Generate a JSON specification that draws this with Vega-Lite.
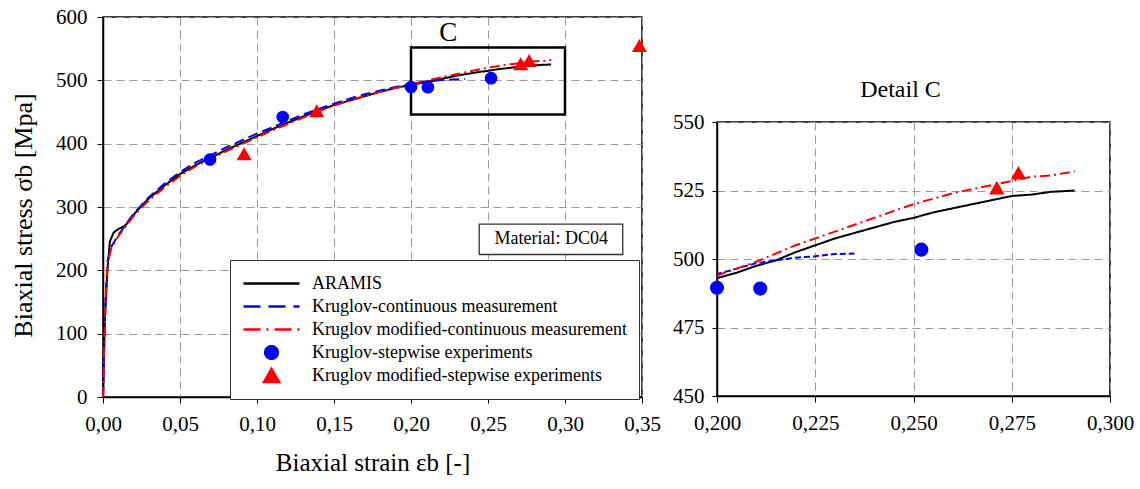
{
  "$schema": "https://vega.github.io/schema/vega-lite/v6.json",
  "padding": {"left": 9, "top": 5, "right": 5, "bottom": 5},
  "background": "white",
  "datasets": {
    "curves": [
      {"series": "ARAMIS", "strain": 0, "stress": 0},
      {"series": "ARAMIS", "strain": 0.0005, "stress": 60},
      {"series": "ARAMIS", "strain": 0.0012, "stress": 120},
      {"series": "ARAMIS", "strain": 0.002, "stress": 160},
      {"series": "ARAMIS", "strain": 0.003, "stress": 205},
      {"series": "ARAMIS", "strain": 0.0045, "stress": 246},
      {"series": "ARAMIS", "strain": 0.007, "stress": 260},
      {"series": "ARAMIS", "strain": 0.0105, "stress": 266},
      {"series": "ARAMIS", "strain": 0.014, "stress": 270},
      {"series": "ARAMIS", "strain": 0.016, "stress": 275},
      {"series": "ARAMIS", "strain": 0.02, "stress": 288},
      {"series": "ARAMIS", "strain": 0.025, "stress": 302},
      {"series": "ARAMIS", "strain": 0.03, "stress": 314},
      {"series": "ARAMIS", "strain": 0.04, "stress": 334},
      {"series": "ARAMIS", "strain": 0.05, "stress": 352},
      {"series": "ARAMIS", "strain": 0.06, "stress": 366},
      {"series": "ARAMIS", "strain": 0.07, "stress": 378},
      {"series": "ARAMIS", "strain": 0.08, "stress": 390},
      {"series": "ARAMIS", "strain": 0.09, "stress": 401},
      {"series": "ARAMIS", "strain": 0.1, "stress": 412},
      {"series": "ARAMIS", "strain": 0.11, "stress": 423},
      {"series": "ARAMIS", "strain": 0.12, "stress": 433},
      {"series": "ARAMIS", "strain": 0.13, "stress": 443},
      {"series": "ARAMIS", "strain": 0.14, "stress": 452},
      {"series": "ARAMIS", "strain": 0.15, "stress": 461},
      {"series": "ARAMIS", "strain": 0.16, "stress": 468},
      {"series": "ARAMIS", "strain": 0.17, "stress": 475},
      {"series": "ARAMIS", "strain": 0.18, "stress": 482},
      {"series": "ARAMIS", "strain": 0.19, "stress": 488},
      {"series": "ARAMIS", "strain": 0.2, "stress": 493},
      {"series": "ARAMIS", "strain": 0.205, "stress": 495},
      {"series": "ARAMIS", "strain": 0.21, "stress": 497.5},
      {"series": "ARAMIS", "strain": 0.215, "stress": 499.5},
      {"series": "ARAMIS", "strain": 0.22, "stress": 502.5},
      {"series": "ARAMIS", "strain": 0.225, "stress": 505},
      {"series": "ARAMIS", "strain": 0.23, "stress": 507.5},
      {"series": "ARAMIS", "strain": 0.235, "stress": 509.5},
      {"series": "ARAMIS", "strain": 0.24, "stress": 511.5},
      {"series": "ARAMIS", "strain": 0.245, "stress": 513.5},
      {"series": "ARAMIS", "strain": 0.25, "stress": 515},
      {"series": "ARAMIS", "strain": 0.255, "stress": 517},
      {"series": "ARAMIS", "strain": 0.26, "stress": 518.5},
      {"series": "ARAMIS", "strain": 0.265, "stress": 520},
      {"series": "ARAMIS", "strain": 0.27, "stress": 521.5},
      {"series": "ARAMIS", "strain": 0.275, "stress": 523},
      {"series": "ARAMIS", "strain": 0.28, "stress": 523.5},
      {"series": "ARAMIS", "strain": 0.285, "stress": 524.5},
      {"series": "ARAMIS", "strain": 0.291, "stress": 525},
      {"series": "Kruglov-continuous measurement", "strain": 0, "stress": 0},
      {"series": "Kruglov-continuous measurement", "strain": 0.0005, "stress": 55},
      {"series": "Kruglov-continuous measurement", "strain": 0.0013, "stress": 130},
      {"series": "Kruglov-continuous measurement", "strain": 0.002, "stress": 175},
      {"series": "Kruglov-continuous measurement", "strain": 0.003, "stress": 215},
      {"series": "Kruglov-continuous measurement", "strain": 0.0056, "stress": 238},
      {"series": "Kruglov-continuous measurement", "strain": 0.01, "stress": 256},
      {"series": "Kruglov-continuous measurement", "strain": 0.0165, "stress": 278},
      {"series": "Kruglov-continuous measurement", "strain": 0.02, "stress": 290},
      {"series": "Kruglov-continuous measurement", "strain": 0.025, "stress": 303},
      {"series": "Kruglov-continuous measurement", "strain": 0.03, "stress": 316},
      {"series": "Kruglov-continuous measurement", "strain": 0.04, "stress": 337},
      {"series": "Kruglov-continuous measurement", "strain": 0.05, "stress": 355},
      {"series": "Kruglov-continuous measurement", "strain": 0.06, "stress": 370},
      {"series": "Kruglov-continuous measurement", "strain": 0.07, "stress": 382},
      {"series": "Kruglov-continuous measurement", "strain": 0.08, "stress": 394},
      {"series": "Kruglov-continuous measurement", "strain": 0.09, "stress": 405},
      {"series": "Kruglov-continuous measurement", "strain": 0.1, "stress": 416},
      {"series": "Kruglov-continuous measurement", "strain": 0.11, "stress": 426},
      {"series": "Kruglov-continuous measurement", "strain": 0.12, "stress": 436},
      {"series": "Kruglov-continuous measurement", "strain": 0.13, "stress": 446},
      {"series": "Kruglov-continuous measurement", "strain": 0.14, "stress": 455},
      {"series": "Kruglov-continuous measurement", "strain": 0.15, "stress": 463},
      {"series": "Kruglov-continuous measurement", "strain": 0.16, "stress": 471},
      {"series": "Kruglov-continuous measurement", "strain": 0.17, "stress": 478},
      {"series": "Kruglov-continuous measurement", "strain": 0.18, "stress": 484},
      {"series": "Kruglov-continuous measurement", "strain": 0.19, "stress": 489.5},
      {"series": "Kruglov-continuous measurement", "strain": 0.2, "stress": 494.5},
      {"series": "Kruglov-continuous measurement", "strain": 0.205, "stress": 496.5},
      {"series": "Kruglov-continuous measurement", "strain": 0.21, "stress": 498.5},
      {"series": "Kruglov-continuous measurement", "strain": 0.215, "stress": 499.5},
      {"series": "Kruglov-continuous measurement", "strain": 0.22, "stress": 500.5},
      {"series": "Kruglov-continuous measurement", "strain": 0.225, "stress": 501},
      {"series": "Kruglov-continuous measurement", "strain": 0.23, "stress": 501.8},
      {"series": "Kruglov-continuous measurement", "strain": 0.235, "stress": 502},
      {"series": "Kruglov modified-continuous measurement", "strain": 0, "stress": 0},
      {"series": "Kruglov modified-continuous measurement", "strain": 0.0005, "stress": 50},
      {"series": "Kruglov modified-continuous measurement", "strain": 0.0013, "stress": 125},
      {"series": "Kruglov modified-continuous measurement", "strain": 0.002, "stress": 170},
      {"series": "Kruglov modified-continuous measurement", "strain": 0.003, "stress": 212},
      {"series": "Kruglov modified-continuous measurement", "strain": 0.0056, "stress": 236},
      {"series": "Kruglov modified-continuous measurement", "strain": 0.01, "stress": 254},
      {"series": "Kruglov modified-continuous measurement", "strain": 0.0165, "stress": 275},
      {"series": "Kruglov modified-continuous measurement", "strain": 0.02, "stress": 286},
      {"series": "Kruglov modified-continuous measurement", "strain": 0.025, "stress": 299},
      {"series": "Kruglov modified-continuous measurement", "strain": 0.03, "stress": 311},
      {"series": "Kruglov modified-continuous measurement", "strain": 0.04, "stress": 331},
      {"series": "Kruglov modified-continuous measurement", "strain": 0.05, "stress": 349},
      {"series": "Kruglov modified-continuous measurement", "strain": 0.06, "stress": 364},
      {"series": "Kruglov modified-continuous measurement", "strain": 0.07, "stress": 376},
      {"series": "Kruglov modified-continuous measurement", "strain": 0.08, "stress": 388},
      {"series": "Kruglov modified-continuous measurement", "strain": 0.09, "stress": 399},
      {"series": "Kruglov modified-continuous measurement", "strain": 0.1, "stress": 410},
      {"series": "Kruglov modified-continuous measurement", "strain": 0.11, "stress": 421},
      {"series": "Kruglov modified-continuous measurement", "strain": 0.12, "stress": 431},
      {"series": "Kruglov modified-continuous measurement", "strain": 0.13, "stress": 441},
      {"series": "Kruglov modified-continuous measurement", "strain": 0.14, "stress": 451},
      {"series": "Kruglov modified-continuous measurement", "strain": 0.15, "stress": 460},
      {"series": "Kruglov modified-continuous measurement", "strain": 0.16, "stress": 468},
      {"series": "Kruglov modified-continuous measurement", "strain": 0.17, "stress": 475},
      {"series": "Kruglov modified-continuous measurement", "strain": 0.18, "stress": 482},
      {"series": "Kruglov modified-continuous measurement", "strain": 0.19, "stress": 488},
      {"series": "Kruglov modified-continuous measurement", "strain": 0.2, "stress": 494},
      {"series": "Kruglov modified-continuous measurement", "strain": 0.205, "stress": 496.5},
      {"series": "Kruglov modified-continuous measurement", "strain": 0.21, "stress": 499},
      {"series": "Kruglov modified-continuous measurement", "strain": 0.215, "stress": 502},
      {"series": "Kruglov modified-continuous measurement", "strain": 0.22, "stress": 505},
      {"series": "Kruglov modified-continuous measurement", "strain": 0.225, "stress": 507.5},
      {"series": "Kruglov modified-continuous measurement", "strain": 0.23, "stress": 510},
      {"series": "Kruglov modified-continuous measurement", "strain": 0.235, "stress": 512.5},
      {"series": "Kruglov modified-continuous measurement", "strain": 0.24, "stress": 515},
      {"series": "Kruglov modified-continuous measurement", "strain": 0.245, "stress": 517.5},
      {"series": "Kruglov modified-continuous measurement", "strain": 0.25, "stress": 520},
      {"series": "Kruglov modified-continuous measurement", "strain": 0.255, "stress": 522},
      {"series": "Kruglov modified-continuous measurement", "strain": 0.26, "stress": 524},
      {"series": "Kruglov modified-continuous measurement", "strain": 0.265, "stress": 525.5},
      {"series": "Kruglov modified-continuous measurement", "strain": 0.27, "stress": 527},
      {"series": "Kruglov modified-continuous measurement", "strain": 0.275, "stress": 528.5},
      {"series": "Kruglov modified-continuous measurement", "strain": 0.28, "stress": 530},
      {"series": "Kruglov modified-continuous measurement", "strain": 0.285, "stress": 530.5},
      {"series": "Kruglov modified-continuous measurement", "strain": 0.291, "stress": 532}
    ],
    "points": [
      {"series": "Kruglov-stepwise experiments", "strain": 0.0695, "stress": 375},
      {"series": "Kruglov-stepwise experiments", "strain": 0.1167, "stress": 442},
      {"series": "Kruglov-stepwise experiments", "strain": 0.2, "stress": 489.5},
      {"series": "Kruglov-stepwise experiments", "strain": 0.211, "stress": 489.2},
      {"series": "Kruglov-stepwise experiments", "strain": 0.252, "stress": 503.4},
      {"series": "Kruglov modified-stepwise experiments", "strain": 0.0916, "stress": 384},
      {"series": "Kruglov modified-stepwise experiments", "strain": 0.1388, "stress": 452},
      {"series": "Kruglov modified-stepwise experiments", "strain": 0.2712, "stress": 526},
      {"series": "Kruglov modified-stepwise experiments", "strain": 0.2767, "stress": 531.5},
      {"series": "Kruglov modified-stepwise experiments", "strain": 0.3483, "stress": 555}
    ],
    "boxes": [
      {"name": "C", "x0": 0.2, "x1": 0.3, "y0": 446, "y1": 552},
      {"name": "Material: DC04", "x0": 0.2443, "x1": 0.3375, "y0": 225, "y1": 273}
    ],
    "labels": [
      {"text": "C", "strain": 0.2242, "stress": 575, "kind": "big"},
      {"text": "Material: DC04", "strain": 0.291, "stress": 249, "kind": "small"}
    ]
  },
  "hconcat": [
    {
      "width": 539,
      "height": 380,
      "layer": [
        {
          "data": {"name": "boxes"},
          "transform": [{"filter": "datum.name === 'C'"}],
          "mark": {"type": "rect", "fill": null, "stroke": "black", "strokeWidth": 2.5},
          "encoding": {
            "x": {"field": "x0", "type": "quantitative", "scale": {"domain": [0, 0.35], "nice": false}},
            "x2": {"field": "x1"},
            "y": {"field": "y0", "type": "quantitative", "scale": {"domain": [0, 600], "nice": false}},
            "y2": {"field": "y1"}
          }
        },
        {
          "data": {"name": "boxes"},
          "transform": [{"filter": "datum.name !== 'C'"}],
          "mark": {"type": "rect", "fill": "white", "stroke": "#333", "strokeWidth": 1.3},
          "encoding": {
            "x": {"field": "x0", "type": "quantitative"},
            "x2": {"field": "x1"},
            "y": {"field": "y0", "type": "quantitative"},
            "y2": {"field": "y1"}
          }
        },
        {
          "data": {"name": "labels"},
          "transform": [{"filter": "datum.kind === 'big'"}],
          "mark": {"type": "text", "font": "Liberation Serif", "fontSize": 27, "color": "black", "baseline": "middle"},
          "encoding": {
            "x": {"field": "strain", "type": "quantitative"},
            "y": {"field": "stress", "type": "quantitative"},
            "text": {"field": "text"}
          }
        },
        {
          "data": {"name": "labels"},
          "transform": [{"filter": "datum.kind === 'small'"}],
          "mark": {"type": "text", "font": "Liberation Serif", "fontSize": 18, "color": "black", "baseline": "middle"},
          "encoding": {
            "x": {"field": "strain", "type": "quantitative"},
            "y": {"field": "stress", "type": "quantitative"},
            "text": {"field": "text"}
          }
        },
        {
          "data": {"name": "curves"},
          "mark": {"type": "line", "strokeWidth": 2},
          "encoding": {
            "x": {"field": "strain", "type": "quantitative"},
            "y": {"field": "stress", "type": "quantitative"},
            "detail": {"field": "series"},
            "color": {
              "field": "series",
              "type": "nominal",
              "scale": {
                "domain": ["ARAMIS", "Kruglov-continuous measurement", "Kruglov modified-continuous measurement", "Kruglov-stepwise experiments", "Kruglov modified-stepwise experiments"],
                "range": ["black", "#0000ff", "#ff0000", "#0000ff", "#ff0000"]
              },
              "legend": {
                "orient": "none",
                "legendX": 127,
                "legendY": 243,
                "direction": "vertical",
                "title": null,
                "fillColor": "white",
                "strokeColor": "#333",
                "padding": 12,
                "symbolSize": 3136,
                "clipHeight": 23,
                "rowPadding": 0,
                "labelFont": "Liberation Serif",
                "labelFontSize": 18,
                "labelColor": "black",
                "labelLimit": 500,
                "labelOffset": 11,
                "encode": {
                  "symbols": {
                    "update": {
                      "shape": {"signal": "datum.value === 'Kruglov-stepwise experiments' ? 'circle' : datum.value === 'Kruglov modified-stepwise experiments' ? 'triangle-up' : 'stroke'"},
                      "size": {"signal": "datum.value === 'Kruglov-stepwise experiments' ? 160 : datum.value === 'Kruglov modified-stepwise experiments' ? 225 : 3136"},
                      "fill": {"signal": "datum.value === 'Kruglov-stepwise experiments' ? '#0000ff' : datum.value === 'Kruglov modified-stepwise experiments' ? '#ff0000' : 'transparent'"},
                      "stroke": {"signal": "datum.value === 'ARAMIS' ? 'black' : datum.value === 'Kruglov-continuous measurement' ? '#0000ff' : datum.value === 'Kruglov modified-continuous measurement' ? '#ff0000' : 'transparent'"},
                      "strokeDash": {"signal": "datum.value === 'Kruglov-continuous measurement' ? [17, 8] : datum.value === 'Kruglov modified-continuous measurement' ? [17, 6, 2, 6] : [1, 0]"},
                      "strokeWidth": {"value": 2.5},
                      "opacity": {"value": 1}
                    }
                  }
                }
              }
            },
            "strokeDash": {
              "field": "series",
              "type": "nominal",
              "scale": {
                "domain": ["ARAMIS", "Kruglov-continuous measurement", "Kruglov modified-continuous measurement"],
                "range": [[1, 0], [10, 5], [10, 4, 2, 4]]
              },
              "legend": null
            }
          }
        },
        {
          "data": {"name": "points"},
          "transform": [{"filter": "datum.series === 'Kruglov-stepwise experiments'"}],
          "mark": {"type": "point", "shape": "circle", "filled": true, "opacity": 1, "size": 160},
          "encoding": {
            "x": {"field": "strain", "type": "quantitative"},
            "y": {"field": "stress", "type": "quantitative"},
            "color": {"field": "series", "type": "nominal"}
          }
        },
        {
          "data": {"name": "points"},
          "transform": [{"filter": "datum.series === 'Kruglov modified-stepwise experiments'"}],
          "mark": {"type": "point", "shape": "triangle-up", "filled": true, "opacity": 1, "size": 225},
          "encoding": {
            "x": {"field": "strain", "type": "quantitative"},
            "y": {"field": "stress", "type": "quantitative"},
            "color": {"field": "series", "type": "nominal"}
          }
        }
      ],
      "encoding": {
        "x": {
          "axis": {
            "title": "Biaxial strain εb [-]",
            "values": [0, 0.05, 0.1, 0.15, 0.2, 0.25, 0.3, 0.35],
            "labelExpr": "replace(format(datum.value, '.2f'), '.', ',')",
            "labelFlush": false,
            "titleFontSize": 25,
            "labelPadding": 10,
            "titlePadding": 16
          }
        },
        "y": {
          "axis": {
            "title": "Biaxial stress σb [Mpa]",
            "values": [0, 100, 200, 300, 400, 500, 600],
            "titleFontSize": 26,
            "titleY": 198,
            "labelPadding": 10,
            "titlePadding": 19
          }
        }
      }
    },
    {
      "spacing": 20,
      "vconcat": [
        {
          "width": 393,
          "height": 40,
          "view": {"stroke": null},
          "data": {"values": [{"a": 1}]},
          "mark": {"type": "point", "opacity": 0},
          "encoding": {}
        },
        {
          "width": 393,
          "height": 274,
          "title": {"text": "Detail C", "font": "Liberation Serif", "fontSize": 24, "fontWeight": "normal", "color": "black", "offset": 9, "dx": -13},
          "layer": [
            {
              "data": {"name": "curves"},
              "mark": {"type": "line", "strokeWidth": 2, "clip": true},
              "encoding": {
                "x": {"field": "strain", "type": "quantitative", "scale": {"domain": [0.2, 0.3], "nice": false, "zero": false}},
                "y": {"field": "stress", "type": "quantitative", "scale": {"domain": [450, 550], "nice": false, "zero": false}},
                "detail": {"field": "series"},
                "color": {
                  "field": "series",
                  "type": "nominal",
                  "scale": {
                    "domain": ["ARAMIS", "Kruglov-continuous measurement", "Kruglov modified-continuous measurement", "Kruglov-stepwise experiments", "Kruglov modified-stepwise experiments"],
                    "range": ["black", "#0000ff", "#ff0000", "#0000ff", "#ff0000"]
                  },
                  "legend": null
                },
                "strokeDash": {
                  "field": "series",
                  "type": "nominal",
                  "scale": {
                    "domain": ["ARAMIS", "Kruglov-continuous measurement", "Kruglov modified-continuous measurement"],
                    "range": [[1, 0], [6, 3], [10, 4, 2, 4]]
                  },
                  "legend": null
                }
              }
            },
            {
              "data": {"name": "points"},
              "transform": [{"filter": "datum.series === 'Kruglov-stepwise experiments' && datum.strain >= 0.199 && datum.strain <= 0.3"}],
              "mark": {"type": "point", "shape": "circle", "filled": true, "opacity": 1, "size": 200},
              "encoding": {
                "x": {"field": "strain", "type": "quantitative"},
                "y": {"field": "stress", "type": "quantitative"},
                "color": {"field": "series", "type": "nominal", "legend": null}
              }
            },
            {
              "data": {"name": "points"},
              "transform": [{"filter": "datum.series === 'Kruglov modified-stepwise experiments' && datum.strain >= 0.199 && datum.strain <= 0.3"}],
              "mark": {"type": "point", "shape": "triangle-up", "filled": true, "opacity": 1, "size": 240},
              "encoding": {
                "x": {"field": "strain", "type": "quantitative"},
                "y": {"field": "stress", "type": "quantitative"},
                "color": {"field": "series", "type": "nominal", "legend": null}
              }
            }
          ],
          "encoding": {
            "x": {
              "axis": {
                "title": null,
                "values": [0.2, 0.225, 0.25, 0.275, 0.3],
                "labelExpr": "replace(format(datum.value, '.3f'), '.', ',')",
                "labelFlush": false,
                "labelPadding": 10
              }
            },
            "y": {
              "axis": {
                "title": null,
                "values": [450, 475, 500, 525, 550],
                "labelPadding": 8,
                "tickSize": 5
              }
            }
          }
        }
      ]
    }
  ],
  "spacing": 9,
  "resolve": {"scale": {"color": "independent", "strokeDash": "independent"}},
  "config": {
    "font": "Liberation Serif",
    "view": {"stroke": "black", "strokeWidth": 1.5},
    "axis": {
      "labelFont": "Liberation Serif",
      "labelFontSize": 21,
      "labelColor": "black",
      "titleFont": "Liberation Serif",
      "titleFontWeight": "normal",
      "titleColor": "black",
      "domainColor": "black",
      "domainWidth": 1.5,
      "tickColor": "black",
      "tickSize": 6,
      "gridColor": "#9a9a9a",
      "gridDash": [8, 5],
      "gridWidth": 1
    }
  }
}
